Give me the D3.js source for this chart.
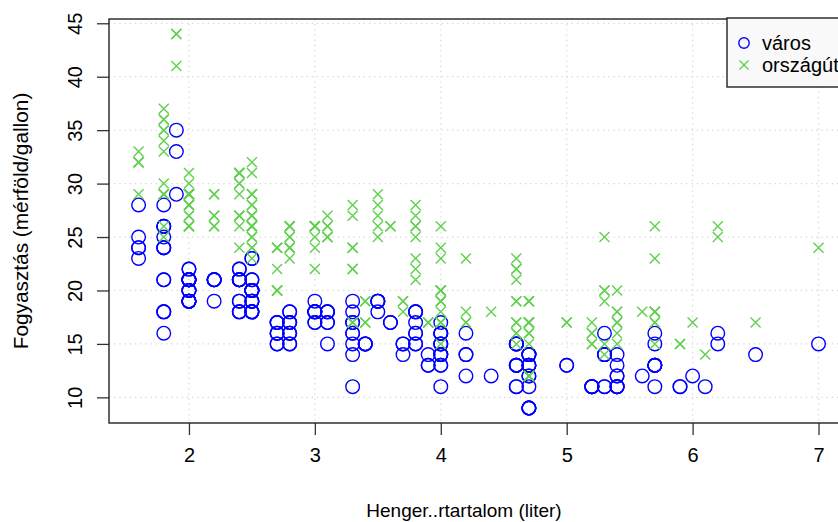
<!DOCTYPE html>
<html>
<head>
<meta charset="utf-8">
<script src="https://cdn.jsdelivr.net/npm/d3@7"></script>
<style>
  body { margin: 0; background: #fff; }
  svg { display: block; font-family: "Liberation Sans", Arial, sans-serif; }
</style>
</head>
<body>
<div id="canvas"></div>
<script>
'use strict';

// mpg: engine displacement (liter), city and highway consumption (mpg)
const displ = [
  1.8, 1.8, 2.0, 2.0, 2.8, 2.8, 3.1, 1.8, 1.8, 2.0, 2.0, 2.8, 2.8, 3.1, 3.1, 2.8, 3.1, 4.2,
  5.3, 5.3, 5.3, 5.7, 6.0, 5.7, 5.7, 6.2, 6.2, 7.0, 5.3, 5.3, 5.7, 6.5, 2.4, 2.4, 3.1, 3.5, 3.6,
  2.4, 3.0, 3.3, 3.3, 3.3, 3.3, 3.3, 3.8, 3.8, 3.8, 4.0,
  3.7, 3.7, 3.9, 3.9, 4.7, 4.7, 4.7, 5.2, 5.2,
  3.9, 4.7, 4.7, 4.7, 5.2, 5.7, 5.9,
  4.7, 4.7, 4.7, 4.7, 4.7, 4.7, 5.2, 5.2, 5.7, 5.9,
  4.6, 5.4, 5.4, 4.0, 4.0, 4.0, 4.0, 4.6, 5.0, 4.2, 4.2, 4.6, 4.6, 4.6, 5.4, 5.4,
  3.8, 3.8, 4.0, 4.0, 4.6, 4.6, 4.6, 4.6, 5.4,
  1.6, 1.6, 1.6, 1.6, 1.6, 1.8, 1.8, 1.8, 2.0,
  2.4, 2.4, 2.4, 2.4, 2.5, 2.5, 3.3, 2.0, 2.0, 2.0, 2.0, 2.7, 2.7, 2.7,
  3.0, 3.7, 4.0, 4.7, 4.7, 4.7, 5.7, 6.1,
  4.0, 4.2, 4.4, 4.6, 5.4, 5.4, 5.4, 4.0, 4.0, 4.6, 5.0,
  2.4, 2.4, 2.5, 2.5, 3.5, 3.5, 3.0, 3.0, 3.5, 3.3, 3.3, 4.0, 5.6,
  3.1, 3.8, 3.8, 3.8, 5.3,
  2.5, 2.5, 2.5, 2.5, 2.5, 2.5, 2.2, 2.2, 2.5, 2.5, 2.5, 2.5, 2.5, 2.5,
  2.7, 2.7, 3.4, 3.4, 4.0, 4.7, 2.2, 2.2, 2.4, 2.4, 3.0, 3.0, 3.5,
  2.2, 2.2, 2.4, 2.4, 3.0, 3.0, 3.3, 1.8, 1.8, 1.8, 1.8, 1.8, 4.7, 5.7,
  2.7, 2.7, 2.7, 3.4, 3.4, 4.0, 4.0,
  2.0, 2.0, 2.0, 2.0, 2.8, 1.9, 2.0, 2.0, 2.0, 2.0, 2.5, 2.5, 2.8, 2.8,
  1.9, 1.9, 2.0, 2.0, 2.5, 2.5, 1.8, 1.8, 2.0, 2.0, 2.8, 2.8, 3.6
];
const cty = [
  18, 21, 20, 21, 16, 18, 18, 18, 16, 20, 19, 15, 17, 17, 15, 15, 17, 16,
  14, 11, 14, 13, 12, 16, 15, 16, 15, 15, 14, 11, 11, 14, 19, 22, 18, 18, 17,
  18, 17, 16, 16, 17, 17, 11, 15, 15, 16, 16,
  15, 14, 13, 14, 14, 14, 9, 11, 11,
  13, 13, 9, 13, 11, 13, 11,
  12, 9, 13, 13, 12, 9, 11, 11, 13, 11,
  11, 11, 12, 14, 15, 14, 13, 13, 13, 14, 14, 13, 13, 13, 11, 13,
  18, 18, 17, 16, 15, 15, 15, 15, 14,
  28, 24, 25, 23, 24, 26, 25, 24, 21,
  18, 18, 21, 21, 18, 18, 19, 19, 19, 20, 20, 17, 16, 17,
  17, 15, 15, 14, 9, 14, 13, 11,
  11, 12, 12, 11, 11, 11, 12, 14, 13, 13, 13,
  21, 19, 23, 23, 19, 19, 18, 19, 19, 14, 15, 14, 12,
  18, 16, 17, 18, 16,
  18, 18, 20, 19, 20, 18, 21, 19, 19, 19, 20, 20, 19, 20,
  15, 16, 15, 15, 16, 14, 21, 21, 21, 21, 18, 18, 19,
  21, 21, 21, 22, 18, 18, 18, 24, 24, 26, 28, 26, 11, 13,
  15, 16, 17, 15, 15, 15, 16,
  21, 19, 21, 22, 17, 33, 21, 19, 22, 21, 21, 21, 16, 17,
  35, 29, 21, 19, 20, 20, 21, 18, 21, 19, 16, 18, 17
];
const hwy = [
  29, 29, 31, 30, 26, 26, 27, 26, 25, 28, 27, 25, 25, 25, 25, 24, 25, 23,
  20, 15, 20, 17, 17, 26, 23, 26, 25, 24, 19, 14, 15, 17, 27, 30, 26, 29, 26,
  24, 24, 22, 22, 24, 24, 17, 22, 21, 23, 23,
  19, 18, 17, 17, 19, 19, 12, 17, 15,
  17, 17, 12, 17, 16, 18, 15,
  16, 12, 17, 17, 16, 12, 15, 16, 17, 15,
  17, 17, 18, 17, 19, 17, 19, 19, 17, 17, 17, 16, 16, 17, 15, 17,
  26, 25, 26, 24, 21, 22, 23, 22, 20,
  33, 32, 32, 29, 32, 34, 36, 36, 29,
  26, 27, 30, 31, 26, 26, 28, 26, 29, 28, 27, 24, 24, 24,
  22, 19, 20, 17, 12, 19, 18, 14,
  15, 18, 18, 15, 17, 16, 18, 17, 19, 19, 17,
  29, 27, 31, 32, 27, 26, 26, 25, 25, 17, 17, 20, 18,
  26, 26, 27, 28, 25,
  25, 24, 27, 25, 26, 23, 26, 26, 26, 26, 28, 27, 24, 27,
  20, 20, 19, 17, 20, 17, 29, 27, 31, 31, 26, 26, 28,
  27, 29, 31, 31, 26, 26, 27, 30, 33, 35, 37, 35, 15, 18,
  20, 20, 22, 17, 19, 18, 20,
  29, 26, 29, 29, 24, 44, 29, 26, 29, 29, 29, 29, 23, 24,
  44, 41, 29, 26, 28, 29, 29, 29, 28, 29, 26, 26, 26
];

const xTicks = [2, 3, 4, 5, 6, 7];
const yTicks = [10, 15, 20, 25, 30, 35, 40, 45];
const seriesNames = ['város', 'országút'];
const xTitle = 'Henger..rtartalom (liter)';
const yTitle = 'Fogyasztás (mérföld/gallon)';

const width = 838;
const height = 522;
// plot region; the right edge runs past the window, as in the original
const plot = { left: 109, top: 19, right: 850, bottom: 423 };
const blue = '#0000ff';
const green = '#61d04f';

const x = d3.scaleLinear().domain([1.365, 7.25]).range([plot.left, plot.right]);
const y = d3.scaleLinear().domain([7.6, 45.4]).range([plot.bottom, plot.top]);

const svg = d3.select('#canvas').append('svg')
    .attr('width', width)
    .attr('height', height);

/* Dotted grid under everything. */
const grid = svg.append('g')
    .attr('stroke', '#d3d3d3')
    .attr('stroke-width', 1.2)
    .attr('stroke-dasharray', '1.2,4');
grid.selectAll('line.gx').data(xTicks).join('line')
    .attr('class', 'gx')
    .attr('x1', (d) => x(d)).attr('x2', (d) => x(d))
    .attr('y1', plot.top).attr('y2', plot.bottom);
grid.selectAll('line.gy').data(yTicks).join('line')
    .attr('class', 'gy')
    .attr('x1', plot.left).attr('x2', plot.right)
    .attr('y1', (d) => y(d)).attr('y2', (d) => y(d));

/* Axes: ticks outside, labels only; the box is drawn on its own. */
const xAxis = svg.append('g')
    .attr('transform', `translate(0,${plot.bottom})`)
    .call(d3.axisBottom(x).tickValues(xTicks).tickSize(12).tickPadding(13)
        .tickFormat(d3.format('d')));
const yAxis = svg.append('g')
    .attr('transform', `translate(${plot.left},0)`)
    .call(d3.axisLeft(y).tickValues(yTicks).tickSize(12).tickFormat(d3.format('d')));
[xAxis, yAxis].forEach((g) => {
  g.select('.domain').remove();
  g.selectAll('.tick line').attr('stroke', '#333').attr('stroke-width', 1.3);
  g.selectAll('.tick text')
      .attr('fill', '#000')
      .style('font-size', '20px')
      .style('font-family', '"Liberation Sans", Arial, sans-serif');
});
yAxis.selectAll('.tick text')
    .attr('x', null).attr('dy', null)
    .attr('text-anchor', 'middle')
    .attr('transform', 'translate(-27,0) rotate(-90)');

svg.append('rect')
    .attr('x', plot.left).attr('y', plot.top)
    .attr('width', plot.right - plot.left)
    .attr('height', plot.bottom - plot.top)
    .attr('fill', 'none')
    .attr('stroke', '#222')
    .attr('stroke-width', 1.4);

/* City values as open circles, highway values as crosses on top. */
const idx = d3.range(displ.length);
svg.append('g').selectAll('circle').data(idx).join('circle')
    .attr('cx', (i) => x(displ[i]))
    .attr('cy', (i) => y(cty[i]))
    .attr('r', 6.8)
    .attr('fill', 'none')
    .attr('stroke', blue)
    .attr('stroke-width', 1.4);

const crossPath = (s) => `M${-s},${-s}L${s},${s}M${-s},${s}L${s},${-s}`;
svg.append('g').selectAll('path').data(idx).join('path')
    .attr('transform', (i) => `translate(${x(displ[i])},${y(hwy[i])})`)
    .attr('d', crossPath(5))
    .attr('fill', 'none')
    .attr('stroke', green)
    .attr('stroke-width', 1.4);

/* Titles */
svg.append('text')
    .attr('x', 464).attr('y', 517)
    .attr('text-anchor', 'middle')
    .style('font-size', '19px')
    .text(xTitle);
svg.append('text')
    .attr('transform', `translate(28,${(plot.top + plot.bottom) / 2}) rotate(-90)`)
    .attr('text-anchor', 'middle')
    .style('font-size', '20.8px')
    .text(yTitle);

/* Legend, cut by the window edge like the reference */
const legend = svg.append('g').attr('transform', 'translate(727,18)');
legend.append('rect')
    .attr('width', 140).attr('height', 69)
    .attr('fill', '#f9f9f9')
    .attr('stroke', '#222')
    .attr('stroke-width', 1.4);
legend.append('circle')
    .attr('cx', 17).attr('cy', 25).attr('r', 5.2)
    .attr('fill', 'none').attr('stroke', blue).attr('stroke-width', 1.4);
legend.append('path')
    .attr('transform', 'translate(17,47)')
    .attr('d', crossPath(4.5))
    .attr('stroke', green).attr('stroke-width', 1.4);
legend.selectAll('text.lab').data(seriesNames).join('text')
    .attr('class', 'lab')
    .attr('x', 35)
    .attr('y', (d, i) => 25 + i * 22)
    .attr('dy', '0.35em')
    .style('font-size', '20px')
    .text((d) => d);
</script>
</body>
</html>
